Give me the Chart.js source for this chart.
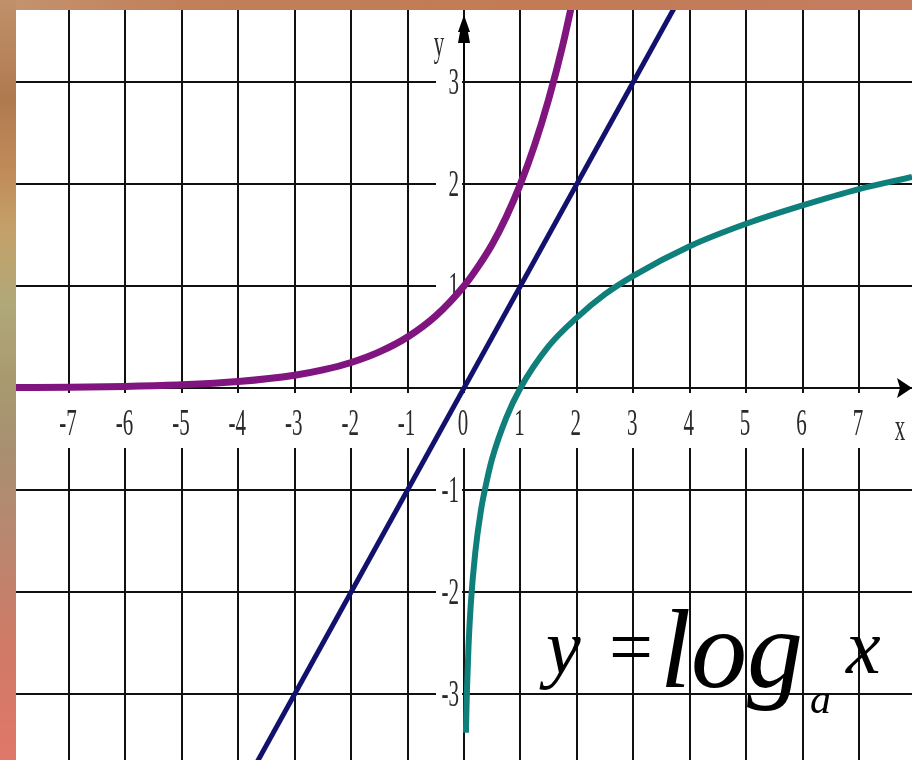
<!DOCTYPE html>
<html>
<head>
<meta charset="utf-8">
<script src="https://cdn.jsdelivr.net/npm/chart.js@4/dist/chart.umd.min.js"></script>
<style>
  html, body { margin: 0; padding: 0; background: #fff; }
  #page { position: relative; width: 912px; height: 760px; overflow: hidden; background: #fff; }
  #topBand { position: absolute; left: 0; top: 0; width: 912px; height: 10px;
    background: linear-gradient(to right, #c39470 0%, #c1805a 20%, #c27b55 60%, #c47d60 100%); }
  #leftBand { position: absolute; left: 0; top: 0; width: 16px; height: 760px;
    background: linear-gradient(to bottom, #c0906a 0%, #b07a50 13%, #c08a58 22%, #c4a068 30%,
      #b0a878 40%, #a89a70 50%, #a89070 59%, #b88870 70%, #d07a68 85%, #e07868 100%); }
  #chart { position: absolute; left: 16px; top: 10px; }
</style>
</head>
<body>
<div id="page">
  <div id="topBand"></div>
  <div id="leftBand"></div>
  <canvas id="chart" width="896" height="750"></canvas>
</div>
<script>
// Límites de los ejes (unidades del gráfico)
const xMin = -7.94, xMax = 7.94;
const yMin = -3.647, yMax = 3.706;

// Marcas de los ejes
const xTicks = [-7, -6, -5, -4, -3, -2, -1, 0, 1, 2, 3, 4, 5, 6, 7];
const yTicks = [-3, -2, -1, 0, 1, 2, 3];
const xTickLabels = ['-7', '-6', '-5', '-4', '-3', '-2', '-1', '0', '1', '2', '3', '4', '5', '6', '7'];
const yTickLabels = ['-3', '-2', '-1', '', '1', '2', '3'];

// Curva exponencial (morada)
const expX = [-7.94, -7, -6, -5, -4, -3, -2.5, -2, -1.5, -1, -0.5, 0, 0.25, 0.5, 0.75, 1, 1.25, 1.5, 1.75, 1.95];
const expY = [0.004, 0.008, 0.016, 0.031, 0.063, 0.125, 0.177, 0.25, 0.354, 0.5, 0.707, 1, 1.19, 1.41, 1.68, 2, 2.38, 2.83, 3.36, 3.86];

// Recta y = x (azul)
const lineX = [-3.75, 3.8];
const lineY = [-3.75, 3.8];

// Curva logarítmica (verde azulado)
const logX = [0.034, 0.05, 0.08, 0.12, 0.2, 0.3, 0.4, 0.5, 0.75, 1, 1.5, 2, 2.5, 3, 4, 5, 6, 7, 7.94];
const logY = [-3.38, -3.0, -2.53, -2.12, -1.61, -1.2, -0.92, -0.69, -0.29, 0, 0.41, 0.69, 0.92, 1.1, 1.39, 1.61, 1.79, 1.95, 2.07];

const toPoints = (xs, ys) => xs.map((x, i) => ({ x: x, y: ys[i] }));

const labelFont = '21px "Liberation Serif", "DejaVu Serif", serif';

// Dibuja un texto estirado en vertical (como en la imagen original)
const stretchedText = (ctx, text, x, y, align) => {
    ctx.save();
    ctx.translate(x, y);
    ctx.scale(1, 1.8);
    ctx.textAlign = align;
    ctx.textBaseline = 'middle';
    ctx.fillText(text, 0, 0);
    ctx.restore();
};

// Plugin: etiquetas sobre los ejes, flechas y letras x / y
const axisDecor = {
    id: 'axisDecor',
    beforeDatasetsDraw(chart) {
        const ctx = chart.ctx;
        const sx = chart.scales.x;
        const sy = chart.scales.y;
        const x0 = sx.getPixelForValue(0);
        const y0 = sy.getPixelForValue(0);
        ctx.save();
        ctx.font = labelFont;

        // etiquetas del eje x
        xTicks.forEach((v, i) => {
            const px = sx.getPixelForValue(v);
            ctx.fillStyle = '#fff';
            ctx.fillRect(px - 10, y0 + 5, 20, 55);
            ctx.fillStyle = '#2a2a2a';
            stretchedText(ctx, xTickLabels[i], px - 1, y0 + 37, 'center');
        });

        // etiquetas del eje y
        yTicks.forEach((v, i) => {
            if (!yTickLabels[i]) return;
            const py = sy.getPixelForValue(v);
            ctx.fillStyle = '#fff';
            ctx.fillRect(x0 - 28, py - 12, 26, 24);
            ctx.fillStyle = '#2a2a2a';
            stretchedText(ctx, yTickLabels[i], x0 - 5, py + 2, 'right');
        });

        // letras de los ejes
        ctx.fillStyle = '#2a2a2a';
        stretchedText(ctx, 'y', x0 - 25, 36, 'center');
        stretchedText(ctx, 'x', sx.right - 12, y0 + 42, 'center');

        // flecha del eje y
        ctx.fillStyle = '#000';
        ctx.beginPath();
        ctx.moveTo(x0, 5);
        ctx.lineTo(x0 + 6, 22);
        ctx.lineTo(x0 + 4, 22);
        ctx.lineTo(x0 + 6, 33);
        ctx.lineTo(x0 - 6, 33);
        ctx.lineTo(x0 - 4, 22);
        ctx.lineTo(x0 - 6, 22);
        ctx.closePath();
        ctx.fill();
        ctx.fillRect(x0 - 1, 30, 2, 40);

        // flecha del eje x
        ctx.beginPath();
        ctx.moveTo(sx.right, y0);
        ctx.lineTo(sx.right - 15, y0 - 10);
        ctx.lineTo(sx.right - 12, y0);
        ctx.lineTo(sx.right - 15, y0 + 10);
        ctx.closePath();
        ctx.fill();
        ctx.restore();
    },
    afterDraw(chart) {
        // fórmula y = log_a x
        const ctx = chart.ctx;
        ctx.save();
        ctx.fillStyle = '#000';
        ctx.textBaseline = 'alphabetic';
        ctx.textAlign = 'left';
        ctx.font = 'italic 78px "Liberation Serif", serif';
        ctx.fillText('y', 530, 663);
        ctx.font = '78px "Liberation Serif", serif';
        ctx.fillText('=', 593, 663);
        ctx.font = 'italic 112px "Liberation Serif", serif';
        ctx.fillText('log', 644, 677);
        ctx.font = 'italic 42px "Liberation Serif", serif';
        ctx.fillText('a', 794, 703);
        ctx.font = 'italic 78px "Liberation Serif", serif';
        ctx.fillText('x', 830, 663);
        ctx.restore();
    }
};

const gridStyle = { color: '#111', lineWidth: 2, drawTicks: false };

new Chart(document.getElementById('chart'), {
    type: 'scatter',
    data: {
        datasets: [
            { data: toPoints(expX, expY), borderColor: '#80157f', borderWidth: 7, showLine: true, pointRadius: 0, cubicInterpolationMode: 'monotone' },
            { data: toPoints(lineX, lineY), borderColor: '#12126e', borderWidth: 5, showLine: true, pointRadius: 0 },
            { data: toPoints(logX, logY), borderColor: '#0f7f7b', borderWidth: 6, showLine: true, pointRadius: 0, cubicInterpolationMode: 'monotone' }
        ]
    },
    options: {
        responsive: false,
        animation: false,
        devicePixelRatio: 1,
        layout: { padding: 0 },
        plugins: { legend: { display: false }, tooltip: { enabled: false } },
        scales: {
            x: {
                type: 'linear', min: xMin, max: xMax,
                afterBuildTicks: (scale) => { scale.ticks = xTicks.map((v) => ({ value: v })); },
                grid: gridStyle,
                border: { display: false },
                ticks: { display: false }
            },
            y: {
                type: 'linear', min: yMin, max: yMax,
                afterBuildTicks: (scale) => { scale.ticks = yTicks.map((v) => ({ value: v })); },
                grid: gridStyle,
                border: { display: false },
                ticks: { display: false }
            }
        }
    },
    plugins: [axisDecor]
});
</script>
</body>
</html>
